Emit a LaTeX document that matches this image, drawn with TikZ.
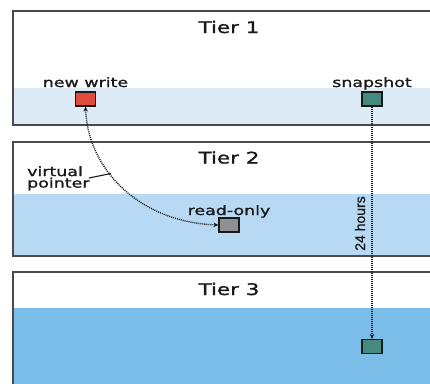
\documentclass[tikz,border=0pt]{standalone}
\usepackage{fontspec}
\usetikzlibrary{arrows.meta}
\newfontfamily\labfont[FakeStretch=1.34,FakeBold=1.3]{DejaVu Sans}
\newfontfamily\narrowfont[FakeBold=1]{Liberation Sans}
\definecolor{bandA}{HTML}{DDEBF7}
\definecolor{bandB}{HTML}{B7D9F3}
\definecolor{bandC}{HTML}{7ABDE8}
\definecolor{frameC}{HTML}{4A4A4A}
\definecolor{inkC}{HTML}{1A1A1A}
\definecolor{writeC}{HTML}{E04B3A}
\definecolor{snapC}{HTML}{468A7F}
\definecolor{roC}{HTML}{8F9094}
\tikzset{
  tierframe/.style={draw=frameC, line width=1.5pt},
  tiertitle/.style={font=\labfont\fontsize{16}{18}\selectfont, text=inkC, anchor=base, inner sep=0pt},
  blocklabel/.style={font=\labfont\fontsize{13}{14}\selectfont, text=inkC, anchor=base, inner sep=0pt},
  block/.style={draw=inkC, line width=1.1pt, minimum width=20pt, minimum height=14pt, inner sep=0pt},
  dotline/.style={draw=inkC, line width=1.4pt, dash pattern=on 1pt off 1pt},
  tip/.style={-{Stealth[length=5pt,width=4.5pt]}}
}
\begin{document}
\begin{tikzpicture}[x=1pt,y=-1pt]
\useasboundingbox (0,0) rectangle (430,383);
\begin{scope}
\clip (0,0) rectangle (430,383);
% tier 1
\fill[white] (13,11) rectangle (445,125);
\fill[bandA] (13,88) rectangle (445,125);
\draw[tierframe] (445,11) -- (13,11) -- (13,125) -- (445,125);
% tier 2
\fill[white] (13,142) rectangle (445,256);
\fill[bandB] (13,194) rectangle (445,256);
\draw[tierframe] (445,142) -- (13,142) -- (13,256) -- (445,256);
% tier 3
\fill[white] (13,272) rectangle (445,395);
\fill[bandC] (13,308) rectangle (445,395);
\draw[tierframe] (445,272) -- (13,272) -- (13,395);
\end{scope}

% titles
\node[tiertitle] (t1) at (229,33) {Tier 1};
\node[tiertitle] (t2) at (229,163.5) {Tier 2};
\node[tiertitle] (t3) at (229,295) {Tier 3};

% blocks
\node[block, fill=writeC] (nw) at (85.5,99) {};
\node[block, fill=snapC] (snap) at (372,99) {};
\node[block, fill=roC] (ro) at (229,225) {};
\node[block, fill=snapC] (arch) at (372,346.5) {};

% block labels
\node[blocklabel] (nwl) at (85.5,87) {new write};
\node[blocklabel] (snapl) at (372,87) {snapshot};
\node[blocklabel] (rol) at (229,215) {read-only};

% virtual pointer label and leader
\node[font=\labfont\fontsize{13}{11.5}\selectfont, text=inkC, anchor=north west, inner sep=0pt, align=left] (vp) at (27,166) {virtual\\pointer};
\coordinate (vpa) at (89,178);
\coordinate (vpb) at (111,173.5);
\draw[inkC, line width=1.1pt] (vpa) -- (vpb);

% connectors
\draw[dotline, tip] (snap.south) -- (arch.north);
\draw[dotline, {Stealth[length=5pt,width=4.5pt]}-{Stealth[length=5pt,width=4.5pt]}]
  (nw.south) .. controls (88,170) and (140,222) .. (ro.west);

% interval label
\node[font=\narrowfont\fontsize{14}{15}\selectfont, text=inkC, rotate=90, inner sep=0pt] (hrs) at (360,223.5) {24 hours};
\end{tikzpicture}
\end{document}
